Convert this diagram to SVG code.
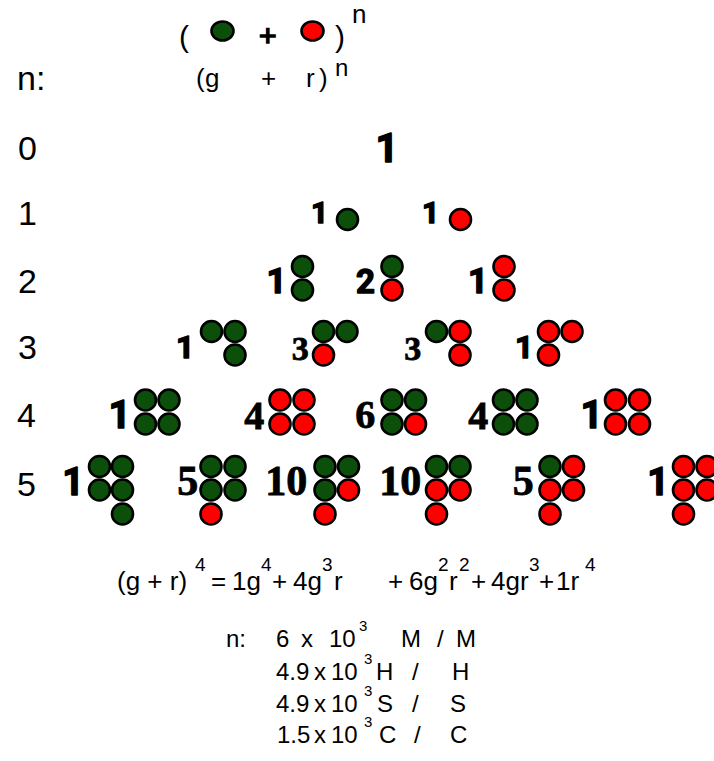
<svg xmlns="http://www.w3.org/2000/svg" width="714" height="761" viewBox="0 0 714 761">
<style>
.s{font-family:"Liberation Sans",Arial,sans-serif;fill:#000}
.lab{font-size:34px}
.sb{font-family:Roboto,"Open Sans","Noto Sans",sans-serif;font-weight:bold;fill:#000;stroke:#000;stroke-width:1.4;stroke-linejoin:round}
.tb{font-family:"Liberation Serif","Times New Roman",serif;font-weight:bold;fill:#000;stroke:#000;stroke-width:0.8}
.G{fill:#0b4f0b;stroke:#000;stroke-width:2.6}
.R{fill:#ff0000;stroke:#000;stroke-width:2.6}
</style>
<rect width="714" height="761" fill="#fff"/>

<g id="header">
  <text class="s" x="179" y="47" font-size="30">(</text>
  <ellipse class="G" cx="222.5" cy="31" rx="11" ry="9.5"/>
  <text class="s" x="259" y="46" font-size="30" stroke="#000" stroke-width="1.5">+</text>
  <ellipse class="R" cx="312.5" cy="31" rx="11" ry="9.5"/>
  <text class="s" x="335" y="47" font-size="30">)</text>
  <text class="s" x="352" y="23" font-size="26">n</text>
  <text class="s" x="196" y="87" font-size="26">(</text>
  <text class="s" x="205" y="87" font-size="26">g</text>
  <text class="s" x="261" y="87" font-size="26">+</text>
  <text class="s" x="306" y="87" font-size="26">r</text>
  <text class="s" x="319" y="87" font-size="26">)</text>
  <text class="s" x="335" y="76" font-size="24">n</text>
</g>

<g id="row-labels" class="s lab">
  <text x="17" y="90">n:</text>
  <text x="18" y="160">0</text>
  <text x="18" y="225">1</text>
  <text x="18" y="293">2</text>
  <text x="18" y="359">3</text>
  <text x="17" y="427">4</text>
  <text x="17" y="496">5</text>
</g>

<g id="row0">
  <text class="sb" x="375.5" y="162" font-size="40">1</text>
</g>

<g id="row1">
  <g id="r1-g">
    <text class="sb" x="311" y="223" font-size="30">1</text>
    <circle class="G" cx="347.5" cy="219.5" r="10.5"/>
  </g>
  <g id="r1-r">
    <text class="sb" x="422" y="223" font-size="30">1</text>
    <circle class="R" cx="460.5" cy="219.5" r="10.5"/>
  </g>
</g>

<g id="row2">
  <g id="r2-gg">
    <text class="sb" x="266.5" y="293" font-size="35">1</text>
    <circle class="G" cx="302.5" cy="266.5" r="10.5"/>
    <circle class="G" cx="302.5" cy="290" r="10.5"/>
  </g>
  <g id="r2-gr">
    <text class="sb" x="356" y="293" font-size="33">2</text>
    <circle class="G" cx="392" cy="266.5" r="10.5"/>
    <circle class="R" cx="392" cy="290" r="10.5"/>
  </g>
  <g id="r2-rr">
    <text class="sb" x="468" y="293" font-size="35">1</text>
    <circle class="R" cx="504" cy="266.5" r="10.5"/>
    <circle class="R" cx="504" cy="290" r="10.5"/>
  </g>
</g>

<g id="row3">
  <g id="r3-ggg">
    <text class="sb" x="176" y="358" font-size="32">1</text>
    <circle class="G" cx="211.5" cy="331.5" r="10.5"/>
    <circle class="G" cx="235" cy="331.5" r="10.5"/>
    <circle class="G" cx="235" cy="355" r="10.5"/>
  </g>
  <g id="r3-ggr">
    <text class="tb" x="291.7" y="360" font-size="34">3</text>
    <circle class="G" cx="323.5" cy="331.5" r="10.5"/>
    <circle class="G" cx="347" cy="331.5" r="10.5"/>
    <circle class="R" cx="323.5" cy="355" r="10.5"/>
  </g>
  <g id="r3-grr">
    <text class="tb" x="404.2" y="360" font-size="34">3</text>
    <circle class="G" cx="436.5" cy="331.5" r="10.5"/>
    <circle class="R" cx="460" cy="331.5" r="10.5"/>
    <circle class="R" cx="460" cy="355" r="10.5"/>
  </g>
  <g id="r3-rrr">
    <text class="sb" x="515" y="358" font-size="32">1</text>
    <circle class="R" cx="548.5" cy="331.5" r="10.5"/>
    <circle class="R" cx="572" cy="331.5" r="10.5"/>
    <circle class="R" cx="548.5" cy="355" r="10.5"/>
  </g>
</g>

<g id="row4">
  <g id="r4-1">
    <text class="sb" x="108.5" y="428" font-size="39">1</text>
    <circle class="G" cx="145.5" cy="400" r="10.5"/>
    <circle class="G" cx="169" cy="400" r="10.5"/>
    <circle class="G" cx="145.5" cy="424" r="10.5"/>
    <circle class="G" cx="169" cy="424" r="10.5"/>
  </g>
  <g id="r4-2">
    <text class="tb" x="244.2" y="429" font-size="40">4</text>
    <circle class="R" cx="280" cy="400" r="10.5"/>
    <circle class="R" cx="304" cy="400" r="10.5"/>
    <circle class="R" cx="280" cy="424" r="10.5"/>
    <circle class="R" cx="304" cy="424" r="10.5"/>
  </g>
  <g id="r4-3">
    <text class="tb" x="355.2" y="428" font-size="40">6</text>
    <circle class="G" cx="392" cy="400" r="10.5"/>
    <circle class="G" cx="415.5" cy="400" r="10.5"/>
    <circle class="G" cx="392" cy="424" r="10.5"/>
    <circle class="R" cx="415.5" cy="424" r="10.5"/>
  </g>
  <g id="r4-4">
    <text class="tb" x="468.2" y="429" font-size="40">4</text>
    <circle class="G" cx="503.5" cy="400" r="10.5"/>
    <circle class="G" cx="527" cy="400" r="10.5"/>
    <circle class="G" cx="503.5" cy="424" r="10.5"/>
    <circle class="G" cx="527" cy="424" r="10.5"/>
  </g>
  <g id="r4-5">
    <text class="sb" x="580.5" y="428" font-size="39">1</text>
    <circle class="R" cx="615.5" cy="400" r="10.5"/>
    <circle class="R" cx="639.5" cy="400" r="10.5"/>
    <circle class="R" cx="615.5" cy="424" r="10.5"/>
    <circle class="R" cx="639.5" cy="424" r="10.5"/>
  </g>
</g>

<g id="row5">
  <g id="r5-1">
    <text class="sb" x="62.3" y="495" font-size="38">1</text>
    <circle class="G" cx="99.5" cy="466.5" r="10.5"/>
    <circle class="G" cx="122.5" cy="466.5" r="10.5"/>
    <circle class="G" cx="99.5" cy="490" r="10.5"/>
    <circle class="G" cx="122.5" cy="490" r="10.5"/>
    <circle class="G" cx="122.5" cy="514" r="10.5"/>
  </g>
  <g id="r5-2">
    <text class="tb" x="177.2" y="495" font-size="42">5</text>
    <circle class="G" cx="211" cy="466.5" r="10.5"/>
    <circle class="G" cx="235" cy="466.5" r="10.5"/>
    <circle class="G" cx="211" cy="490" r="10.5"/>
    <circle class="G" cx="235" cy="490" r="10.5"/>
    <circle class="R" cx="211" cy="514" r="10.5"/>
  </g>
  <g id="r5-3">
    <text class="tb" x="265.2" y="495" font-size="42">10</text>
    <circle class="G" cx="325" cy="466.5" r="10.5"/>
    <circle class="G" cx="348.5" cy="466.5" r="10.5"/>
    <circle class="G" cx="325" cy="490" r="10.5"/>
    <circle class="R" cx="348.5" cy="490" r="10.5"/>
    <circle class="R" cx="325" cy="514" r="10.5"/>
  </g>
  <g id="r5-4">
    <text class="tb" x="379.2" y="495" font-size="42">10</text>
    <circle class="G" cx="436.5" cy="466.5" r="10.5"/>
    <circle class="G" cx="460" cy="466.5" r="10.5"/>
    <circle class="R" cx="436.5" cy="490" r="10.5"/>
    <circle class="R" cx="460" cy="490" r="10.5"/>
    <circle class="R" cx="436.5" cy="514" r="10.5"/>
  </g>
  <g id="r5-5">
    <text class="tb" x="512.7" y="495" font-size="42">5</text>
    <circle class="G" cx="550" cy="466.5" r="10.5"/>
    <circle class="R" cx="573.5" cy="466.5" r="10.5"/>
    <circle class="R" cx="550" cy="490" r="10.5"/>
    <circle class="R" cx="573.5" cy="490" r="10.5"/>
    <circle class="R" cx="550" cy="514" r="10.5"/>
  </g>
  <g id="r5-6">
    <text class="sb" x="647.3" y="495" font-size="38">1</text>
    <circle class="R" cx="683.5" cy="466.5" r="10.5"/>
    <circle class="R" cx="707" cy="466.5" r="10.5"/>
    <circle class="R" cx="683.5" cy="490" r="10.5"/>
    <circle class="R" cx="707" cy="490" r="10.5"/>
    <circle class="R" cx="683.5" cy="514" r="10.5"/>
  </g>
</g>

<g id="formula" class="s" font-size="26">
  <text x="117" y="590">(g + r)</text>
  <text x="195" y="571" font-size="19">4</text>
  <text x="211" y="590">=</text>
  <text x="232" y="590">1g</text>
  <text x="261" y="571" font-size="19">4</text>
  <text x="272" y="590">+</text>
  <text x="293" y="590">4g</text>
  <text x="322" y="571" font-size="19">3</text>
  <text x="334" y="590">r</text>
  <text x="388" y="590">+</text>
  <text x="409" y="590">6g</text>
  <text x="438" y="571" font-size="19">2</text>
  <text x="449" y="590">r</text>
  <text x="459" y="571" font-size="19">2</text>
  <text x="471" y="590">+</text>
  <text x="491" y="590">4gr</text>
  <text x="529" y="571" font-size="19">3</text>
  <text x="539" y="590">+</text>
  <text x="556" y="590">1r</text>
  <text x="585" y="571" font-size="19">4</text>
</g>

<g id="values" class="s" font-size="24">
  <text x="226" y="647">n:</text>
  <text x="276" y="647">6</text>
  <text x="301" y="647">x</text>
  <text x="329" y="647">10</text>
  <text x="359" y="631" font-size="15">3</text>
  <text x="401" y="647">M</text>
  <text x="437" y="647">/</text>
  <text x="456" y="647">M</text>

  <text x="276" y="680">4.9</text>
  <text x="314" y="680">x</text>
  <text x="331" y="680">10</text>
  <text x="364" y="664" font-size="15">3</text>
  <text x="376" y="680">H</text>
  <text x="412" y="680">/</text>
  <text x="452" y="680">H</text>

  <text x="276" y="712">4.9</text>
  <text x="314" y="712">x</text>
  <text x="331" y="712">10</text>
  <text x="364" y="696" font-size="15">3</text>
  <text x="377" y="712">S</text>
  <text x="412" y="712">/</text>
  <text x="450" y="712">S</text>

  <text x="277" y="743">1.5</text>
  <text x="314" y="743">x</text>
  <text x="331" y="743">10</text>
  <text x="364" y="727" font-size="15">3</text>
  <text x="379" y="743">C</text>
  <text x="414" y="743">/</text>
  <text x="450" y="743">C</text>
</g>
</svg>
